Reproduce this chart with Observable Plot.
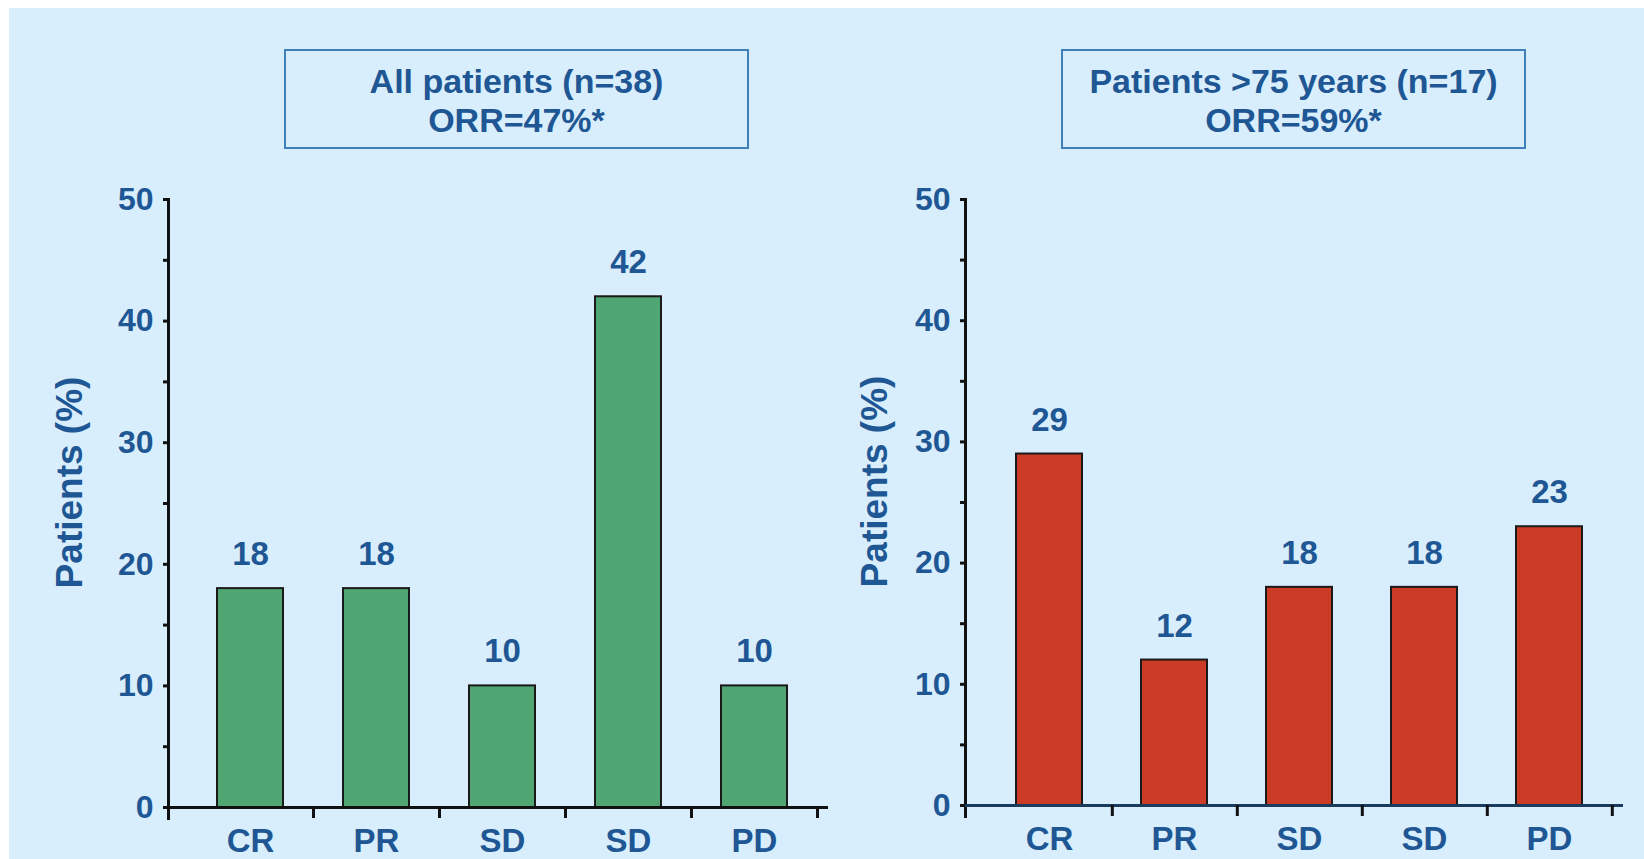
<!DOCTYPE html>
<html>
<head>
<meta charset="utf-8">
<script src="https://cdn.jsdelivr.net/npm/d3@7"></script>
<script src="https://cdn.jsdelivr.net/npm/@observablehq/plot@0.6"></script>
<style>
  html, body { margin: 0; padding: 0; background: #ffffff; }
  body { width: 1644px; height: 859px; position: relative; overflow: hidden;
         font-family: "Liberation Sans", Arial, sans-serif; }
  #panel-bg { position: absolute; left: 9px; top: 8px; right: 0; bottom: 0; background: #d9eefc; }
  .chart { position: absolute; top: 0; }
  .title-box { position: absolute; top: 49px; height: 100px; width: 465px; box-sizing: border-box;
               border: 2px solid #3f7fba; display: flex; flex-direction: column;
               justify-content: center; align-items: center; padding-top: 4px;
               color: #1e5794; font-weight: bold; font-size: 34px; line-height: 39px; }
</style>
</head>
<body>
<div id="panel-bg"></div>
<div id="left" class="chart" style="left:0px"></div>
<div id="right" class="chart" style="left:840px"></div>
<div class="title-box" style="left:284px" id="title-left"></div>
<div class="title-box" style="left:1061px" id="title-right"></div>
<script>
// Response categories (two "SD" columns are kept apart by index)
const categories = ["CR", "PR", "SD", "SD", "PD"];
// Percent of patients per category
const allPatients = [18, 18, 10, 42, 10];
const over75 = [29, 12, 18, 18, 23];
// Axis ticks
const yMajorTicks = [0, 10, 20, 30, 40, 50];
const yMinorTicks = [5, 15, 25, 35, 45];
const yLabel = "Patients (%)";
// Panel headings
const titleAll = ["All patients (n=38)", "ORR=47%*"];
const titleOld = ["Patients >75 years (n=17)", "ORR=59%*"];

const textBlue = "#1e5794";
const font = "'Liberation Sans', Arial, sans-serif";

function heading(el, lines) {
  for (const line of lines) {
    const d = document.createElement("div");
    d.textContent = line;
    el.appendChild(d);
  }
}
heading(document.getElementById("title-left"), titleAll);
heading(document.getElementById("title-right"), titleOld);

function panel({values, fill, width, marginLeft, marginRight, marginBottom, labelDx, axisColor}) {
  const data = values.map((v, i) => ({i, value: v}));
  const n = categories.length;
  const paddingInner = 0.476, paddingOuter = 0.357, align = 0.55;
  const step = (width - marginLeft - marginRight) / (n - paddingInner + 2 * paddingOuter);
  return Plot.plot({
    width,
    height: 859,
    marginLeft,
    marginRight,
    marginTop: 199,
    marginBottom,
    style: {background: "transparent", fontFamily: font, fontWeight: "bold", color: textBlue, overflow: "visible"},
    x: {type: "band", domain: d3.range(n), paddingInner, paddingOuter, align},
    y: {domain: [0, 50]},
    marks: [
      Plot.barY(data, {x: "i", y: "value", fill, stroke: "#1a1a1a", strokeWidth: 2}),
      Plot.text(data, {x: "i", y: "value", text: d => String(d.value), dy: -34,
                       fontSize: 33, fontWeight: "bold", fill: textBlue}),
      // y axis line, extended a little below the baseline like the other ticks
      Plot.frame({anchor: "left", stroke: "#111", strokeWidth: 3, insetBottom: -11}),
      Plot.ruleY([0], {stroke: axisColor, strokeWidth: 3}),
      Plot.axisY({ticks: yMajorTicks, tickSize: 5, tickPadding: 10, stroke: "#111", strokeWidth: 3,
                  fill: textBlue, fontSize: 32, fontWeight: "bold", label: null}),
      Plot.axisY({ticks: yMinorTicks, tickSize: 5, stroke: "#111", strokeWidth: 3,
                  tickFormat: () => "", label: null}),
      // rotated y-axis title, sitting slightly above the middle of the frame
      Plot.text([yLabel], {frameAnchor: "left", textAnchor: "middle", lineAnchor: "middle",
                           rotate: -90, dx: labelDx, dy: -21,
                           fontSize: 37, fontWeight: "bold", fill: textBlue}),
      Plot.axisX({tickSize: 0, tickPadding: 21, tickFormat: i => categories[i], fill: textBlue,
                  fontSize: 33, fontWeight: "bold", label: null}),
      // separator ticks between the categories
      Plot.axisX({tickSize: 11, dx: step / 2, stroke: "#111", strokeWidth: 3,
                  tickFormat: () => "", label: null})
    ]
  });
}

document.getElementById("left").appendChild(panel({
  values: allPatients, fill: "#4fa673", width: 840, marginLeft: 168, marginRight: 12,
  marginBottom: 52, labelDx: -98, axisColor: "#111"
}));
document.getElementById("right").appendChild(panel({
  values: over75, fill: "#cc3b25", width: 804, marginLeft: 125, marginRight: 21,
  marginBottom: 54, labelDx: -90, axisColor: "#1b3b5c"
}));
</script>
</body>
</html>
